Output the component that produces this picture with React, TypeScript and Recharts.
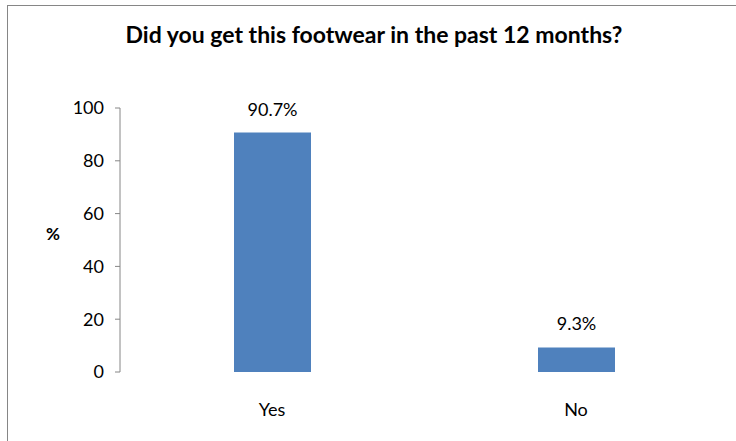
import React from 'react';
import { BarChart, Bar, XAxis, YAxis, LabelList } from 'recharts';

const categories = ['Yes', 'No'];
const percentages = [90.7, 9.3];
const percentLabels = ['90.7%', '9.3%'];
const yTicks = [0, 20, 40, 60, 80, 100];
const edgeTicks = [0, 1, 2];

const data = categories.map((c, i) => ({ name: c, value: percentages[i], label: percentLabels[i] }));

const FONT = 'Lato, "Open Sans", sans-serif';
const GRAY = '#868686';

const CatTick = (props: any) => {
  const { x, y, payload } = props;
  return (
    <text x={x} y={y + 36} textAnchor="middle" fontFamily={FONT} fontSize={18} fill="#000">
      {payload.value}
    </text>
  );
};

export default function App() {
  return (
    <div style={{ position: 'absolute', left: 0, top: 0, width: 736, height: 441, overflow: 'hidden', background: '#fff' }}>
      <div style={{ position: 'absolute', left: 7, top: 5, width: 800, height: 500, borderLeft: `1px solid ${GRAY}`, borderTop: `1px solid ${GRAY}` }} />
      <div style={{ position: 'absolute', left: 0, top: 0 }}>
        <BarChart width={736} height={441} data={data} margin={{ top: 108, right: 8, bottom: 29, left: 0 }}>
          <text x={374} y={43} textAnchor="middle" fontFamily={FONT} fontWeight="bold" fontSize={23} fill="#000">
            Did you get this footwear in the past 12 months?
          </text>
          <XAxis xAxisId="edges" type="number" domain={[0, 2]} ticks={edgeTicks} allowDataOverflow height={0}
            axisLine={{ stroke: GRAY }} tickLine={{ stroke: GRAY }} tickSize={7} tickFormatter={() => ''} />
          <XAxis xAxisId="cat" dataKey="name" type="category" axisLine={false} tickLine={false} height={40} tick={<CatTick />} />
          <YAxis type="number" domain={[0, 100]} ticks={yTicks} width={120} interval={0}
            axisLine={{ stroke: GRAY }} tickLine={{ stroke: GRAY }} tickSize={5} tickMargin={11}
            tick={{ fontFamily: FONT, fontSize: 18, fill: '#000' }}
            label={{ value: '%', position: 'insideLeft', offset: 46, dy: -6, fontFamily: FONT, fontSize: 17, fontWeight: 'bold', fill: '#000' }} />
          <Bar xAxisId="cat" dataKey="value" fill="#4F81BD" isAnimationActive={false} barSize={77}>
            <LabelList dataKey="label" position="top" offset={17} fontFamily={FONT} fontSize={18} fill="#000" />
          </Bar>
        </BarChart>
      </div>
    </div>
  );
}
